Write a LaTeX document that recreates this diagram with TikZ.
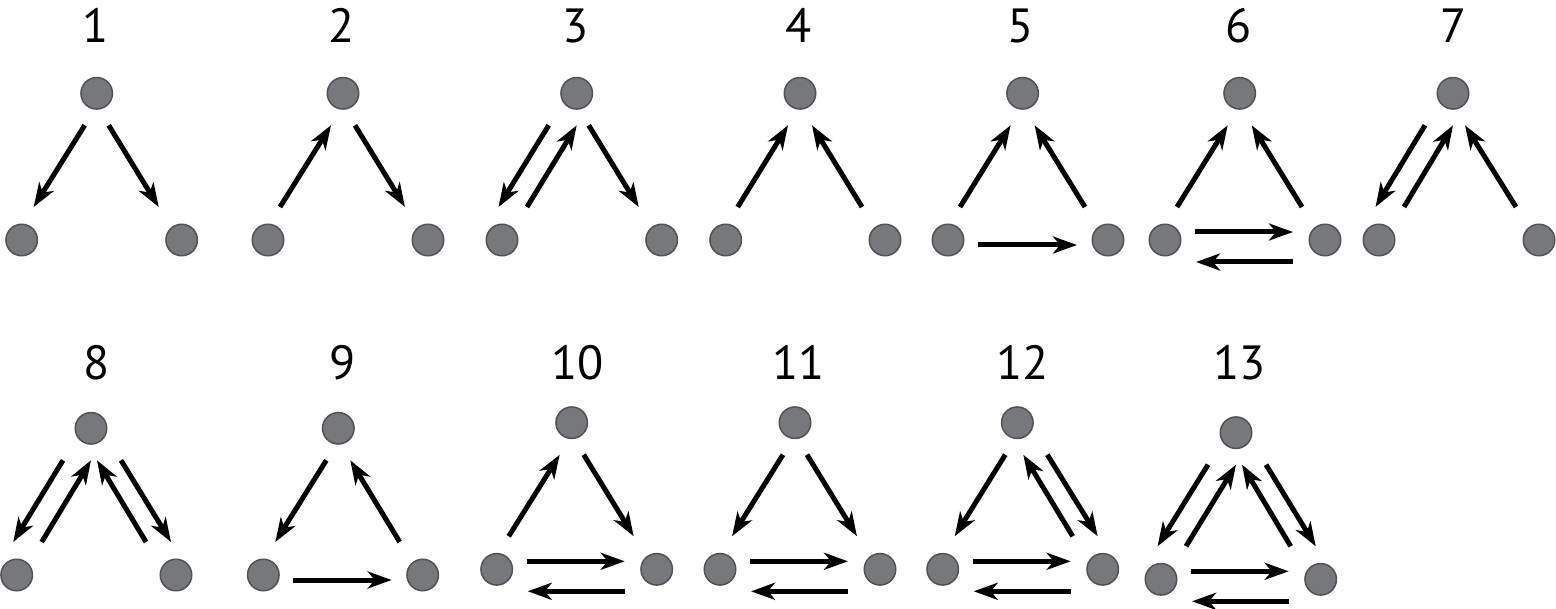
\documentclass[tikz,border=0pt]{standalone}
\usepackage{fontspec}
\setmainfont{PT Sans}
\usetikzlibrary{arrows.meta,calc}
\definecolor{dotfill}{RGB}{119,120,123}
\definecolor{dotedge}{RGB}{82,82,85}
\newcommand\TLdown[2]{\draw[arrowline] ($(#1)+(-12,32)$) -- ($(#2)+(12,-33)$);}
\newcommand\TLup[2]{\draw[arrowline] ($(#2)+(12,-33)$) -- ($(#1)+(-12,32)$);}
\newcommand\TRdown[2]{\draw[arrowline] ($(#1)+(12,32)$) -- ($(#2)+(-23,-33)$);}
\newcommand\TRup[2]{\draw[arrowline] ($(#2)+(-23,-33)$) -- ($(#1)+(12,32)$);}
\newcommand\Lpair[2]{\draw[arrowline] ($(#1)+(-28,32)$) -- ($(#2)+(-3.5,-33)$);
  \draw[arrowline] ($(#2)+(25,-33)$) -- ($(#1)+(0,32)$);}
\newcommand\Rpair[2]{\draw[arrowline] ($(#2)+(-30,-33)$) -- ($(#1)+(6,32)$);
  \draw[arrowline] ($(#1)+(30,32)$) -- ($(#2)+(-5,-33)$);}
\newcommand\Hone[2]{\draw[arrowline] ($(#1)+(30,5)$) -- ($(#2)+(-31,5)$);}
\newcommand\Hpair[2]{\draw[arrowline] ($(#1)+(30,-8)$) -- ($(#2)+(-32,-8)$);
  \draw[arrowline] ($(#2)+(-32,22)$) -- ($(#1)+(31,22)$);}
\begin{document}
\begin{tikzpicture}[x=1pt,y=-1pt,
  dot/.style={circle,fill=dotfill,draw=dotedge,line width=1.5pt,minimum size=31.5pt,inner sep=0pt},
  lbl/.style={anchor=base,inner sep=0pt,font=\fontsize{48}{52}\selectfont},
  arrowline/.style={line width=5pt,-{Stealth[length=24pt,width=17pt,inset=7pt]}}]
\useasboundingbox (0,0) rectangle (1556,609);
% row 1 nodes
\node[dot] (t1) at (96.7,93.3) {}; \node[dot] (l1) at (21.7,240) {}; \node[dot] (r1) at (181.7,240) {};
\node[dot] (t2) at (343,93.3) {}; \node[dot] (l2) at (268,240) {}; \node[dot] (r2) at (428,240) {};
\node[dot] (t3) at (576.7,93.3) {}; \node[dot] (l3) at (502,240) {}; \node[dot] (r3) at (661.7,240) {};
\node[dot] (t4) at (800,93.3) {}; \node[dot] (l4) at (725.7,240) {}; \node[dot] (r4) at (885,240) {};
\node[dot] (t5) at (1022.6,93.3) {}; \node[dot] (l5) at (948,240) {}; \node[dot] (r5) at (1108,240) {};
\node[dot] (t6) at (1239.7,93.3) {}; \node[dot] (l6) at (1165,240) {}; \node[dot] (r6) at (1325,240) {};
\node[dot] (t7) at (1453,93.3) {}; \node[dot] (l7) at (1379,240) {}; \node[dot] (r7) at (1539,240) {};
% row 2 nodes
\node[dot] (t8) at (91,428.3) {}; \node[dot] (l8) at (16.7,575) {}; \node[dot] (r8) at (176,575) {};
\node[dot] (t9) at (338.3,428.3) {}; \node[dot] (l9) at (263.3,575) {}; \node[dot] (r9) at (422.7,575) {};
\node[dot] (t10) at (571.7,422.7) {}; \node[dot] (l10) at (496.7,569.3) {}; \node[dot] (r10) at (656.7,569.3) {};
\node[dot] (t11) at (795,422.7) {}; \node[dot] (l11) at (720,569.3) {}; \node[dot] (r11) at (880,569.3) {};
\node[dot] (t12) at (1017.3,422.7) {}; \node[dot] (l12) at (942.7,569.3) {}; \node[dot] (r12) at (1102.7,569.3) {};
\node[dot] (t13) at (1236,432.7) {}; \node[dot] (l13) at (1161,579.3) {}; \node[dot] (r13) at (1320.7,579.3) {};
% labels
\node[lbl] (n1) at (95.5,43) {1};
\node[lbl] (n2) at (342,43) {2};
\node[lbl] (n3) at (575.5,43) {3};
\node[lbl] (n4) at (799,43) {4};
\node[lbl] (n5) at (1021,43) {5};
\node[lbl] (n6) at (1239,43) {6};
\node[lbl] (n7) at (1454,43) {7};
\node[lbl] (n8) at (96.6,380) {8};
\node[lbl] (n9) at (343,380) {9};
\node[lbl] (n10) at (577.5,380) {10};
\node[lbl] (n11) at (798.5,380) {11};
\node[lbl] (n12) at (1022.5,380) {12};
\node[lbl] (n13) at (1239.5,380) {13};
% motifs
\TLdown{t1}{l1} \TRdown{t1}{r1}
\TLup{t2}{l2} \TRdown{t2}{r2}
\Lpair{t3}{l3} \TRdown{t3}{r3}
\TLup{t4}{l4} \TRup{t4}{r4}
\TLup{t5}{l5} \TRup{t5}{r5} \Hone{l5}{r5}
\TLup{t6}{l6} \TRup{t6}{r6} \Hpair{l6}{r6}
\Lpair{t7}{l7} \TRup{t7}{r7}
\Lpair{t8}{l8} \Rpair{t8}{r8}
\TLdown{t9}{l9} \TRup{t9}{r9} \Hone{l9}{r9}
\TLup{t10}{l10} \TRdown{t10}{r10} \Hpair{l10}{r10}
\TLdown{t11}{l11} \TRdown{t11}{r11} \Hpair{l11}{r11}
\TLdown{t12}{l12} \Rpair{t12}{r12} \Hpair{l12}{r12}
\Lpair{t13}{l13} \Rpair{t13}{r13} \Hpair{l13}{r13}
\end{tikzpicture}
\end{document}
